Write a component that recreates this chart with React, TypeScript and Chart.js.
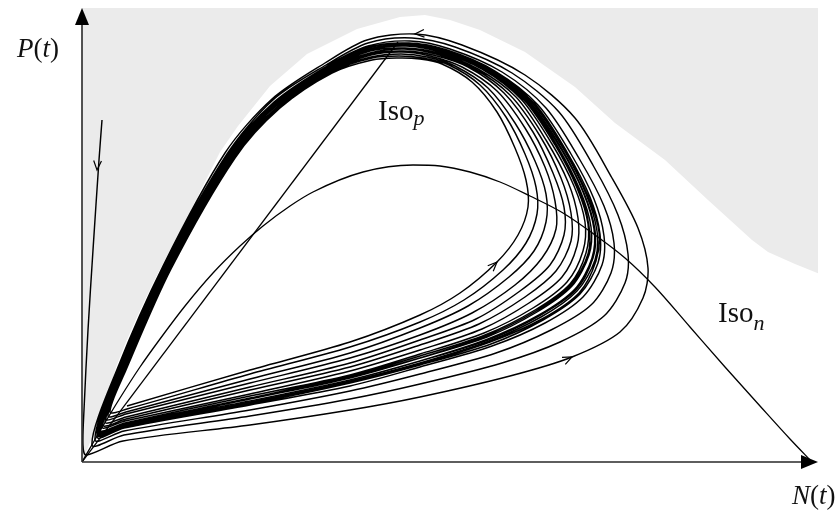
import { useEffect, useRef } from "react";
import { Chart, registerables } from "chart.js";

Chart.register(...registerables);

type Pt = [number, number];

// Axis extents (N = prey, P = predator), arbitrary units
const N_MAX = 73.6;
const P_MAX = 45.4;
const SHADE_TOP = 45.5;

// Edge of the shaded (grey) region: grey lies above this curve
const shadeEdge: Pt[] = [
  [0, 0], [0.4, 1.0], [1.2, 2.9], [2.0, 4.9], [2.8, 7.2], [3.4, 9.5], [4.4, 12.0],
  [5.5, 14.5], [7.0, 17.7], [8.8, 21.2], [10.4, 24.2], [12.0, 27.4], [13.8, 31.0],
  [15.6, 33.6], [18.8, 37.6], [22.5, 40.8], [27.5, 43.3], [31.8, 44.5], [34.3, 44.7],
  [36.8, 44.2], [39.8, 43.2], [44.3, 41.0], [49.3, 37.5], [53.3, 33.9], [58.3, 30.2],
  [62.6, 26.2], [67.0, 22.2], [68.6, 21.0], [71.3, 19.8], [74.0, 18.7],
];

// Prey isocline Iso_n
const isoN: Pt[] = [
  [0, 0], [1.8, 3.1], [3.8, 6.4], [5.8, 9.5], [7.8, 12.3], [10.3, 15.6], [13.1, 18.9],
  [15.8, 21.6], [18.1, 23.6], [20.8, 25.6], [23.1, 27.0], [28.1, 29.0], [33.1, 29.7],
  [35.8, 29.6], [38.8, 29.0], [41.8, 28.0], [44.8, 26.6], [48.1, 24.9], [51.3, 22.7],
  [54.3, 20.4], [57.3, 17.5], [60.8, 13.5], [64.3, 9.5], [67.8, 5.6], [70.8, 2.3], [73.0, 0],
];

// Predator isocline Iso_p
const isoP: Pt[] = [[0, 0], [31.6, 42.0]];

// Trajectory starting high on the P axis
const descent: Pt[] = [
  [2.0, 34.2], [1.7, 30.2], [1.1, 21.2], [0.6, 13.2], [0.2, 5.2], [0.1, 1.7], [0.4, 0.7],
];

// Outer loops (spiralling inwards)
const outer1: Pt[] = [
  [4.1, 2.1], [16.8, 3.7], [26.8, 5.2], [33.8, 6.5], [42.8, 8.6], [49.0, 10.5], [53.8, 13.0],
  [56.1, 16.4], [56.6, 19.4], [55.6, 23.4], [53.0, 28.4], [49.3, 34.4], [44.3, 38.7],
  [38.0, 41.7], [33.3, 42.8], [28.5, 42.2], [24.3, 39.9], [19.0, 36.3], [14.3, 30.9],
  [8.1, 19.6], [3.6, 9.5],
];
const outer2: Pt[] = [
  [1.0, 1.7], [4.2, 2.7], [16.8, 4.6], [26.8, 6.3], [33.8, 7.8], [42.0, 9.9], [47.8, 12.0],
  [52.2, 14.6], [54.3, 17.9], [54.6, 20.8], [53.6, 24.7], [51.2, 29.5], [47.7, 35.0],
  [43.0, 38.9], [37.3, 41.5], [33.0, 42.4], [28.6, 41.9], [24.4, 39.7], [19.1, 36.2],
  [14.5, 30.8], [8.2, 19.6], [3.7, 9.5],
];
const outer3: Pt[] = [
  [1.3, 2.2], [4.2, 3.1], [16.8, 5.2], [26.8, 7.1], [33.8, 8.8], [41.4, 10.9], [46.9, 13.2],
  [50.9, 15.7], [52.9, 18.9], [53.2, 21.9], [52.2, 25.6], [49.8, 30.2], [46.4, 35.4],
  [42.0, 39.0], [36.8, 41.3], [32.8, 42.1], [28.6, 41.6], [24.5, 39.6], [19.2, 36.0],
  [14.6, 30.8], [8.3, 19.5], [3.8, 9.4],
];
const outer4: Pt[] = [
  [1.5, 2.5], [4.2, 3.4], [16.8, 5.7], [26.8, 7.6], [33.8, 9.5], [41.0, 11.6], [46.3, 13.9],
  [50.1, 16.5], [52.0, 19.7], [52.2, 22.6], [51.2, 26.3], [48.9, 30.8], [45.6, 35.7],
  [41.3, 39.1], [36.5, 41.2], [32.7, 41.9], [28.7, 41.5], [24.6, 39.5], [19.3, 36.0],
  [14.7, 30.7], [8.4, 19.5], [3.9, 9.4],
];
const outer5: Pt[] = [
  [1.5, 2.7], [4.3, 3.5], [16.8, 5.8], [26.8, 7.9], [33.8, 9.7], [40.9, 11.8], [46.1, 14.2],
  [49.8, 16.8], [51.6, 19.9], [51.8, 22.8], [50.8, 26.5], [48.5, 31.0], [45.3, 35.8],
  [41.1, 39.1], [36.4, 41.2], [32.6, 41.9], [28.7, 41.4], [24.6, 39.5], [19.3, 35.9],
  [14.7, 30.7], [8.4, 19.5], [3.9, 9.4],
];
const outer6: Pt[] = [
  [1.6, 2.7], [4.3, 3.5], [16.8, 5.9], [26.8, 8.0], [33.8, 9.8], [40.8, 12.0], [46.0, 14.3],
  [49.7, 16.9], [51.4, 20.1], [51.7, 23.0], [50.6, 26.6], [48.3, 31.1], [45.1, 35.9],
  [40.9, 39.1], [36.3, 41.1], [32.6, 41.8], [28.7, 41.4], [24.6, 39.5], [19.3, 35.9],
  [14.7, 30.7], [8.4, 19.5], [3.9, 9.4],
];
const outer7: Pt[] = [
  [1.6, 2.8], [4.3, 3.6], [16.8, 6.0], [26.8, 8.1], [33.8, 9.9], [40.7, 12.1], [45.9, 14.5],
  [49.5, 17.1], [51.3, 20.2], [51.5, 23.1], [50.4, 26.8], [48.2, 31.2], [45.0, 35.9],
  [40.8, 39.2], [36.2, 41.1], [32.6, 41.8], [28.7, 41.4], [24.6, 39.5], [19.3, 35.9],
  [14.7, 30.7], [8.4, 19.5], [3.9, 9.4], [1.7, 2.9],
];

// Inner loops (spiralling outwards)
const inner1: Pt[] = [
  [4.5, 5.6], [16.8, 9.2], [26.8, 12.0], [33.8, 14.7], [37.8, 16.9], [41.5, 20.0], [43.6, 22.7],
  [44.6, 25.5], [44.4, 28.2], [43.3, 31.4], [41.5, 35.0], [39.0, 38.0], [36.0, 39.8],
  [33.8, 40.3], [31.6, 40.4], [29.0, 40.2], [25.0, 38.9], [19.8, 35.4], [15.3, 30.4],
  [8.9, 19.3], [4.4, 9.2],
];
const inner2: Pt[] = [
  [2.8, 5.0], [4.5, 5.3], [16.8, 8.8], [26.8, 11.5], [33.8, 14.0], [38.2, 16.2], [42.1, 19.2],
  [44.4, 21.9], [45.5, 24.8], [45.4, 27.5], [44.3, 30.8], [42.4, 34.5], [39.8, 37.7],
  [36.7, 39.7], [34.1, 40.4], [31.7, 40.6], [29.0, 40.4], [24.9, 39.0], [19.7, 35.5],
  [15.2, 30.4], [8.8, 19.3], [4.3, 9.2],
];
const inner3: Pt[] = [
  [2.6, 4.6], [4.4, 5.0], [16.8, 8.3], [26.8, 10.9], [33.8, 13.4], [38.6, 15.6], [42.7, 18.5],
  [45.2, 21.1], [46.4, 24.0], [46.4, 26.8], [45.3, 30.1], [43.3, 33.9], [40.6, 37.4],
  [37.3, 39.6], [34.5, 40.5], [31.9, 40.8], [28.9, 40.5], [24.9, 39.1], [19.7, 35.5],
  [15.1, 30.5], [8.8, 19.3], [4.3, 9.2],
];
const inner4: Pt[] = [
  [2.4, 4.3], [4.4, 4.8], [16.8, 7.9], [26.8, 10.4], [33.8, 12.7], [39.0, 14.9], [43.3, 17.7],
  [46.0, 20.4], [47.4, 23.3], [47.3, 26.1], [46.3, 29.5], [44.3, 33.4], [41.5, 37.1],
  [38.0, 39.5], [34.8, 40.6], [32.0, 41.0], [28.9, 40.7], [24.8, 39.1], [19.6, 35.6],
  [15.1, 30.5], [8.7, 19.4], [4.2, 9.3],
];
const inner5: Pt[] = [
  [2.3, 4.0], [4.4, 4.5], [16.8, 7.5], [26.8, 9.9], [33.8, 12.2], [39.4, 14.3], [43.8, 17.1],
  [46.8, 19.7], [48.2, 22.7], [48.2, 25.5], [47.1, 28.9], [45.1, 33.0], [42.2, 36.9],
  [38.6, 39.5], [35.1, 40.7], [32.1, 41.1], [28.8, 40.8], [24.8, 39.2], [19.5, 35.7],
  [15.0, 30.6], [8.6, 19.4], [4.1, 9.3],
];
const inner6: Pt[] = [
  [2.1, 3.7], [4.4, 4.3], [16.8, 7.2], [26.8, 9.5], [33.8, 11.7], [39.7, 13.8], [44.3, 16.5],
  [47.4, 19.1], [48.9, 22.1], [48.9, 24.9], [47.9, 28.4], [45.8, 32.6], [42.8, 36.7],
  [39.1, 39.4], [35.4, 40.8], [32.2, 41.3], [28.8, 40.9], [24.7, 39.3], [19.5, 35.7],
  [14.9, 30.6], [8.6, 19.4], [4.1, 9.3],
];
const inner7: Pt[] = [
  [2.0, 3.5], [4.3, 4.1], [16.8, 6.8], [26.8, 9.1], [33.8, 11.2], [40.0, 13.3], [44.7, 15.9],
  [48.0, 18.5], [49.5, 21.6], [49.6, 24.4], [48.6, 28.0], [46.4, 32.2], [43.4, 36.5],
  [39.6, 39.3], [35.6, 40.9], [32.3, 41.4], [28.8, 41.1], [24.7, 39.3], [19.5, 35.8],
  [14.9, 30.6], [8.6, 19.4], [4.1, 9.3],
];
const inner8: Pt[] = [
  [1.8, 3.2], [4.3, 3.9], [16.8, 6.6], [26.8, 8.7], [33.8, 10.8], [40.2, 12.9], [45.1, 15.4],
  [48.5, 18.0], [50.1, 21.1], [50.3, 24.0], [49.2, 27.6], [47.0, 31.8], [43.9, 36.3],
  [40.0, 39.3], [35.8, 41.0], [32.4, 41.6], [28.8, 41.2], [24.7, 39.4], [19.4, 35.8],
  [14.8, 30.6], [8.5, 19.4], [4.0, 9.3],
];
const inner9: Pt[] = [
  [1.8, 3.1], [4.3, 3.8], [16.8, 6.4], [26.8, 8.6], [33.8, 10.6], [40.3, 12.7], [45.3, 15.2],
  [48.8, 17.8], [50.4, 20.9], [50.6, 23.8], [49.5, 27.4], [47.3, 31.7], [44.2, 36.2],
  [40.2, 39.2], [35.9, 41.0], [32.5, 41.6], [28.7, 41.2], [24.6, 39.4], [19.4, 35.9],
  [14.8, 30.7], [8.5, 19.5], [4.0, 9.4],
];
const inner10: Pt[] = [
  [1.8, 3.1], [4.3, 3.8], [16.8, 6.3], [26.8, 8.5], [33.8, 10.4], [40.4, 12.6], [45.4, 15.1],
  [48.9, 17.7], [50.6, 20.8], [50.7, 23.6], [49.7, 27.2], [47.5, 31.6], [44.4, 36.1],
  [40.3, 39.2], [36.0, 41.0], [32.5, 41.6], [28.7, 41.2], [24.6, 39.4], [19.4, 35.9],
  [14.8, 30.7], [8.5, 19.5], [4.0, 9.4],
];
const inner11: Pt[] = [
  [1.7, 3.0], [4.3, 3.7], [16.8, 6.3], [26.8, 8.4], [33.8, 10.4], [40.5, 12.5], [45.5, 15.0],
  [49.0, 17.6], [50.7, 20.7], [50.9, 23.5], [49.8, 27.2], [47.6, 31.5], [44.5, 36.1],
  [40.4, 39.2], [36.0, 41.0], [32.5, 41.7], [28.7, 41.3], [24.6, 39.4], [19.4, 35.9],
  [14.8, 30.7], [8.5, 19.5], [4.0, 9.4],
];
const inner12: Pt[] = [
  [1.7, 2.9], [4.3, 3.7], [16.8, 6.1], [26.8, 8.2], [33.8, 10.1], [40.6, 12.3], [45.7, 14.7],
  [49.3, 17.3], [51.0, 20.4], [51.2, 23.3], [50.1, 27.0], [47.9, 31.3], [44.7, 36.0],
  [40.6, 39.2], [36.1, 41.1], [32.5, 41.7], [28.7, 41.3], [24.6, 39.5], [19.4, 35.9],
  [14.7, 30.7], [8.5, 19.5], [4.0, 9.4],
];
const inner13: Pt[] = [
  [1.6, 2.9], [4.3, 3.6], [16.8, 6.1], [26.8, 8.2], [33.8, 10.1], [40.6, 12.2], [45.7, 14.6],
  [49.4, 17.2], [51.1, 20.4], [51.3, 23.2], [50.2, 26.9], [48.0, 31.3], [44.8, 36.0],
  [40.7, 39.2], [36.2, 41.1], [32.6, 41.8], [28.7, 41.3], [24.6, 39.5], [19.3, 35.9],
  [14.7, 30.7], [8.4, 19.5], [3.9, 9.4], [1.7, 2.9],
];

// Direction arrows on the trajectories: position and a point it heads toward
const arrowAt: Pt[] = [[1.5, 29.2], [49.0, 10.5], [41.5, 20.0], [33.3, 42.8]];
const arrowToward: Pt[] = [[1.3, 26.0], [50.5, 11.2], [42.6, 21.1], [32.0, 42.7]];

const toXY = (pts: Pt[]) => pts.map(([x, y]) => ({ x, y }));

const outerTrajectory = [
  ...descent, ...outer1, ...outer2, ...outer3, ...outer4, ...outer5, ...outer6, ...outer7,
];
const innerTrajectory = [
  ...inner1, ...inner2, ...inner3, ...inner4, ...inner5, ...inner6, ...inner7, ...inner8,
  ...inner9, ...inner10, ...inner11, ...inner12, ...inner13,
];

const SERIF = '"Liberation Serif", "Times New Roman", serif';

type Part = { t: string; italic?: boolean; size: number; dy?: number };

function drawRich(ctx: CanvasRenderingContext2D, parts: Part[], x: number, y: number) {
  let cx = x;
  for (const p of parts) {
    ctx.font = `${p.italic ? "italic " : ""}${p.size}px ${SERIF}`;
    ctx.fillText(p.t, cx, y + (p.dy || 0));
    cx += ctx.measureText(p.t).width;
  }
}

const decorPlugin = {
  id: "decor",
  afterDatasetsDraw(chart: any) {
    const { ctx, chartArea, scales } = chart;
    const { left, top, right, bottom } = chartArea;
    const sx = scales.x;
    const sy = scales.y;
    ctx.save();

    // axes with arrowheads
    ctx.strokeStyle = "#2a2a2a";
    ctx.lineWidth = 1.6;
    ctx.beginPath();
    ctx.moveTo(left, bottom);
    ctx.lineTo(left, top + 12);
    ctx.moveTo(left, bottom);
    ctx.lineTo(right - 12, bottom);
    ctx.stroke();
    ctx.fillStyle = "#000";
    ctx.beginPath();
    ctx.moveTo(left, top);
    ctx.lineTo(left - 7, top + 17);
    ctx.lineTo(left + 7, top + 17);
    ctx.closePath();
    ctx.fill();
    ctx.beginPath();
    ctx.moveTo(right, bottom);
    ctx.lineTo(right - 17, bottom - 7);
    ctx.lineTo(right - 17, bottom + 7);
    ctx.closePath();
    ctx.fill();

    // trajectory direction chevrons
    ctx.strokeStyle = "#000";
    ctx.lineWidth = 1.2;
    arrowAt.forEach((a, i) => {
      const px = sx.getPixelForValue(a[0]);
      const py = sy.getPixelForValue(a[1]);
      const tx = sx.getPixelForValue(arrowToward[i][0]);
      const ty = sy.getPixelForValue(arrowToward[i][1]);
      const ang = Math.atan2(ty - py, tx - px);
      const L = 10;
      ctx.beginPath();
      ctx.moveTo(px - L * Math.cos(ang - 0.4), py - L * Math.sin(ang - 0.4));
      ctx.lineTo(px, py);
      ctx.lineTo(px - L * Math.cos(ang + 0.4), py - L * Math.sin(ang + 0.4));
      ctx.stroke();
    });

    // labels
    ctx.fillStyle = "#111";
    ctx.textBaseline = "alphabetic";
    drawRich(
      ctx,
      [
        { t: "P", italic: true, size: 27 },
        { t: "(", size: 27 },
        { t: "t", italic: true, size: 27 },
        { t: ")", size: 27 },
      ],
      left - 65,
      top + 49
    );
    drawRich(
      ctx,
      [
        { t: "N", italic: true, size: 27 },
        { t: "(", size: 27 },
        { t: "t", italic: true, size: 27 },
        { t: ")", size: 27 },
      ],
      right - 26,
      bottom + 42
    );
    drawRich(
      ctx,
      [
        { t: "Iso", size: 29 },
        { t: "p", italic: true, size: 22, dy: 5 },
      ],
      sx.getPixelForValue(29.6),
      sy.getPixelForValue(34.2)
    );
    drawRich(
      ctx,
      [
        { t: "Iso", size: 29 },
        { t: "n", italic: true, size: 22, dy: 8 },
      ],
      sx.getPixelForValue(63.6),
      sy.getPixelForValue(14.0)
    );
    ctx.restore();
  },
};

export default function App() {
  const ref = useRef<HTMLCanvasElement | null>(null);

  useEffect(() => {
    if (!ref.current) return;
    const lineBase = {
      showLine: true,
      pointRadius: 0,
      borderColor: "#000",
      fill: false,
      borderJoinStyle: "round" as const,
    };
    const chart = new Chart(ref.current, {
      type: "scatter",
      data: {
        datasets: [
          {
            ...lineBase,
            label: "trajectory (outer)",
            data: toXY(outerTrajectory),
            borderWidth: 1.45,
            tension: 0.3,
            order: 1,
          },
          {
            ...lineBase,
            label: "trajectory (inner)",
            data: toXY(innerTrajectory),
            borderWidth: 1.45,
            tension: 0.3,
            order: 1,
          },
          {
            ...lineBase,
            label: "Iso_n",
            data: toXY(isoN),
            borderWidth: 1.3,
            cubicInterpolationMode: "monotone",
            order: 2,
          } as any,
          {
            ...lineBase,
            label: "Iso_p",
            data: toXY(isoP),
            borderWidth: 1.3,
            tension: 0,
            order: 2,
          },
          {
            label: "shaded region",
            data: toXY(shadeEdge),
            showLine: true,
            pointRadius: 0,
            borderWidth: 0,
            borderColor: "rgba(0,0,0,0)",
            backgroundColor: "#ebebeb",
            fill: { value: SHADE_TOP },
            tension: 0,
            clip: false as any,
            order: 10,
          } as any,
        ],
      },
      options: {
        animation: false,
        responsive: false,
        devicePixelRatio: 1,
        layout: { padding: { left: 82, right: 17, top: 8, bottom: 52 } },
        scales: {
          x: { type: "linear", min: 0, max: N_MAX, display: false },
          y: { type: "linear", min: 0, max: P_MAX, display: false },
        },
        plugins: {
          legend: { display: false },
          tooltip: { enabled: false },
          title: { display: false },
        },
        elements: { line: { capBezierPoints: false } },
      },
      plugins: [decorPlugin],
    });
    return () => chart.destroy();
  }, []);

  return (
    <div style={{ position: "absolute", left: 0, top: 0, width: 835, height: 514, background: "#fff" }}>
      <canvas ref={ref} width={835} height={514} style={{ display: "block", width: 835, height: 514 }} />
    </div>
  );
}
